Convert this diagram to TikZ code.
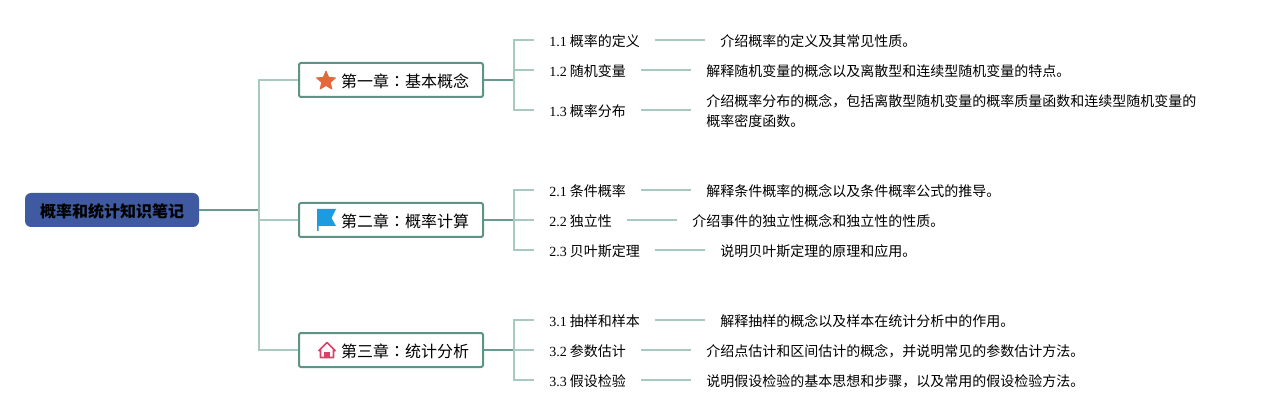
\documentclass[tikz,border=0pt]{standalone}
\usepackage{fontspec}
\setmainfont{Noto Sans CJK SC}
\newfontfamily\numfont{Liberation Serif}
\newfontfamily\colonfont{Noto Sans CJK TC}
\usetikzlibrary{positioning,shapes.geometric}
\definecolor{rootblue}{HTML}{3F5AA0}
\definecolor{stemgreen}{HTML}{6A9A8D}
\definecolor{twiggreen}{HTML}{A8C9BF}
\definecolor{chapgreen}{HTML}{5E9485}
\definecolor{starorange}{HTML}{E5673A}
\definecolor{flagblue}{HTML}{1E9BE0}
\definecolor{housered}{HTML}{DE3E68}
\tikzset{
  mmroot/.style={fill=rootblue, rounded corners=4.5pt, minimum width=130.5pt, minimum height=25.5pt, inner sep=0pt, text height=13pt, text depth=2.36pt, font=\fontsize{12}{15}\selectfont\bfseries},
  mmchap/.style={draw=chapgreen, fill=white, rounded corners=1.5pt, line width=1.5pt, minimum width=138pt, minimum height=25.5pt, inner sep=0pt, text height=13pt, text depth=2.36pt, font=\fontsize{12}{15}\selectfont, execute at begin node=\hspace*{21pt}},
  mmtopic/.style={inner xsep=11.25pt, inner ysep=0pt, text height=11.5pt, text depth=2pt, font=\fontsize{10.5}{15}\selectfont},
  mmnote/.style={inner xsep=11.25pt, inner ysep=0pt, text height=11.5pt, text depth=2pt, font=\fontsize{10.5}{15}\selectfont},
  mmlongnote/.style={inner xsep=11.25pt, inner ysep=0pt, align=left, font=\fontsize{10.5}{15}\selectfont},
  mmstem/.style={draw=stemgreen, line width=1.2pt},
  mmtwig/.style={draw=twiggreen, line width=1.2pt}
}

\begin{document}
\begin{tikzpicture}[x=0.75pt, y=-0.75pt, node distance=37.5pt]
  \useasboundingbox (0,0) rectangle (1266,420);

  \node[mmroot] (root) at (112,210) {概率和统计知识笔记};
  \node[mmchap] (chap1) at (391,80) {第一章{\colonfont ：}基本概念};
  \node[mmchap] (chap2) at (391,220) {第二章{\colonfont ：}概率计算};
  \node[mmchap] (chap3) at (391,350) {第三章{\colonfont ：}统计分析};

  \coordinate (rootfork) at (259,210);
  \coordinate (fork1) at (514,80);
  \coordinate (fork2) at (514,220);
  \coordinate (fork3) at (514,350);

  \draw[mmstem] (root.east) -- (rootfork);
  \draw[mmtwig] (rootfork) |- (chap1.west);
  \draw[mmtwig] (rootfork) |- (chap2.west);
  \draw[mmtwig] (rootfork) |- (chap3.west);

  \node[mmtopic, anchor=west] (t11) at (534,40) {{\numfont 1.1} 概率的定义};
  \node[mmtopic, anchor=west] (t12) at (534,70) {{\numfont 1.2} 随机变量};
  \node[mmtopic, anchor=west] (t13) at (534,110) {{\numfont 1.3} 概率分布};
  \node[mmnote, right=of t11] (n11) {介绍概率的定义及其常见性质。};
  \node[mmnote, right=of t12] (n12) {解释随机变量的概念以及离散型和连续型随机变量的特点。};
  \node[mmlongnote, right=of t13] (n13) {\rule{0pt}{10pt}介绍概率分布的概念，包括离散型随机变量的概率质量函数和连续型随机变量的\\概率密度函数。};

  \node[mmtopic, anchor=west] (t21) at (534,190) {{\numfont 2.1} 条件概率};
  \node[mmtopic, anchor=west] (t22) at (534,220) {{\numfont 2.2} 独立性};
  \node[mmtopic, anchor=west] (t23) at (534,250) {{\numfont 2.3} 贝叶斯定理};
  \node[mmnote, right=of t21] (n21) {解释条件概率的概念以及条件概率公式的推导。};
  \node[mmnote, right=of t22] (n22) {介绍事件的独立性概念和独立性的性质。};
  \node[mmnote, right=of t23] (n23) {说明贝叶斯定理的原理和应用。};

  \node[mmtopic, anchor=west] (t31) at (534,320) {{\numfont 3.1} 抽样和样本};
  \node[mmtopic, anchor=west] (t32) at (534,350) {{\numfont 3.2} 参数估计};
  \node[mmtopic, anchor=west] (t33) at (534,380) {{\numfont 3.3} 假设检验};
  \node[mmnote, right=of t31] (n31) {解释抽样的概念以及样本在统计分析中的作用。};
  \node[mmnote, right=of t32] (n32) {介绍点估计和区间估计的概念，并说明常见的参数估计方法。};
  \node[mmnote, right=of t33] (n33) {说明假设检验的基本思想和步骤，以及常用的假设检验方法。};

  \draw[mmstem] (chap1.east) -- (fork1);
  \draw[mmstem] (chap2.east) -- (fork2);
  \draw[mmstem] (chap3.east) -- (fork3);

  \draw[mmtwig] (fork1) |- (t11.west);
  \draw[mmtwig] (fork1) |- (t12.west);
  \draw[mmtwig] (fork1) |- (t13.west);
  \draw[mmtwig] (fork2) |- (t21.west);
  \draw[mmtwig] (fork2) -- (t22.west);
  \draw[mmtwig] (fork2) |- (t23.west);
  \draw[mmtwig] (fork3) |- (t31.west);
  \draw[mmtwig] (fork3) -- (t32.west);
  \draw[mmtwig] (fork3) |- (t33.west);

  \draw[mmtwig] (t11) -- (n11);
  \draw[mmtwig] (t12) -- (n12);
  \draw[mmtwig] (t13) -- (n13);
  \draw[mmtwig] (t21) -- (n21);
  \draw[mmtwig] (t22) -- (n22);
  \draw[mmtwig] (t23) -- (n23);
  \draw[mmtwig] (t31) -- (n31);
  \draw[mmtwig] (t32) -- (n32);
  \draw[mmtwig] (t33) -- (n33);

  \node[star, star points=5, star point ratio=2.2, draw=starorange, line width=0.6pt, line join=round, fill=starorange, minimum size=15pt, inner sep=0pt] (staricon) at (326,81) {};

  \fill[flagblue] (317,209) -- (336,209) -- (331.5,218) -- (336,226) -- (318.5,226) -- (318.5,231) -- (317,231) -- cycle;

  \draw[housered, line width=1.2pt, line join=round] (318.5,351) -- (327,342.5) -- (335.5,351) (320.5,349) -- (320.5,357.5) -- (333.5,357.5) -- (333.5,349);
  \fill[housered] (323.5,351.5) -- (330,351.5) -- (330,358) -- (323.5,358) -- cycle;
\end{tikzpicture}
\end{document}
